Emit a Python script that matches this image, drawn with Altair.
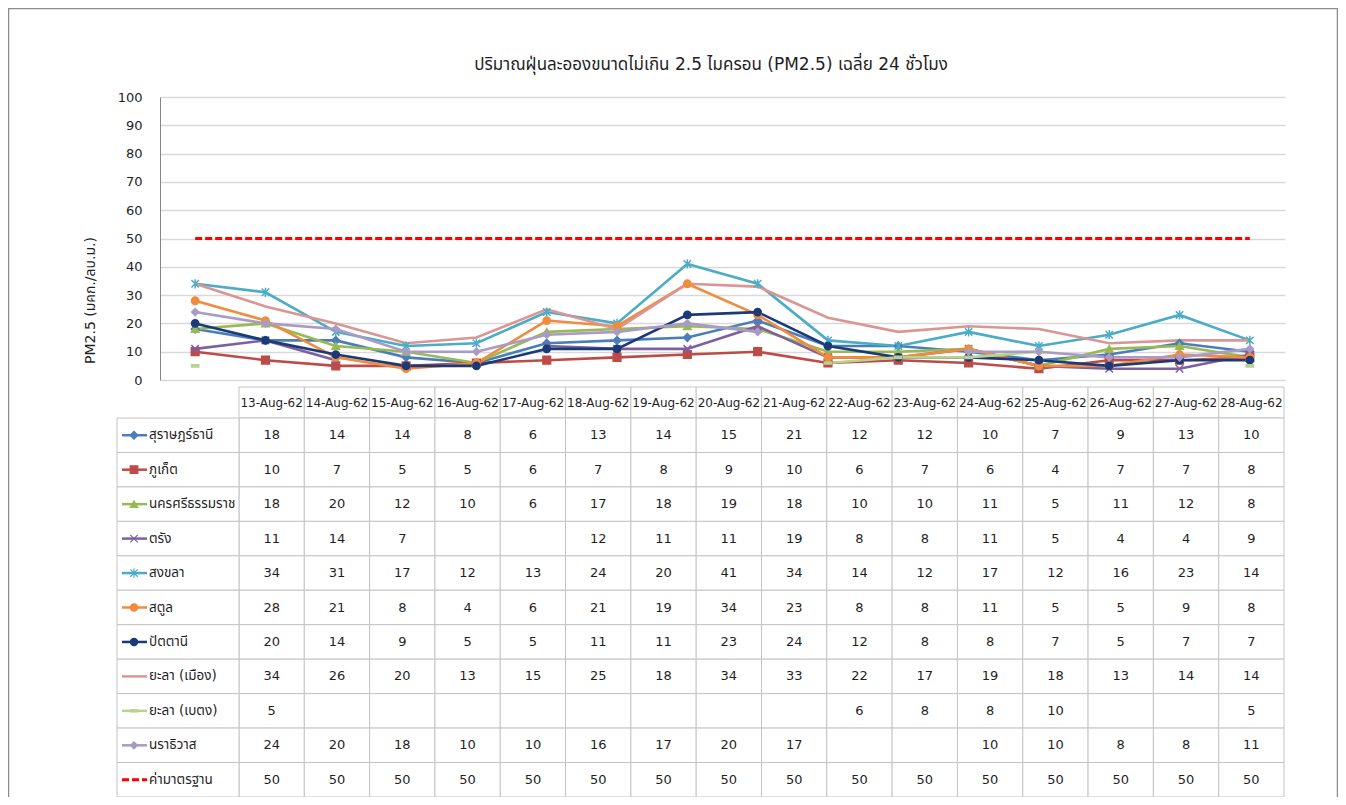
import altair as alt
import pandas as pd

# ---------------- data ----------------
dates = ["13-Aug-62", "14-Aug-62", "15-Aug-62", "16-Aug-62", "17-Aug-62", "18-Aug-62",
         "19-Aug-62", "20-Aug-62", "21-Aug-62", "22-Aug-62", "23-Aug-62", "24-Aug-62",
         "25-Aug-62", "26-Aug-62", "27-Aug-62", "28-Aug-62"]

series_names = ["สุราษฎร์ธานี", "ภูเก็ต", "นครศรีธรรมราช", "ตรัง", "สงขลา", "สตูล",
                "ปัตตานี", "ยะลา (เมือง)", "ยะลา (เบตง)", "นราธิวาส", "ค่ามาตรฐาน"]

surat = [18, 14, 14, 8, 6, 13, 14, 15, 21, 12, 12, 10, 7, 9, 13, 10]
phuket = [10, 7, 5, 5, 6, 7, 8, 9, 10, 6, 7, 6, 4, 7, 7, 8]
nakhon = [18, 20, 12, 10, 6, 17, 18, 19, 18, 10, 10, 11, 5, 11, 12, 8]
trang = [11, 14, 7, None, None, 12, 11, 11, 19, 8, 8, 11, 5, 4, 4, 9]
songkhla = [34, 31, 17, 12, 13, 24, 20, 41, 34, 14, 12, 17, 12, 16, 23, 14]
satun = [28, 21, 8, 4, 6, 21, 19, 34, 23, 8, 8, 11, 5, 5, 9, 8]
pattani = [20, 14, 9, 5, 5, 11, 11, 23, 24, 12, 8, 8, 7, 5, 7, 7]
yala_muang = [34, 26, 20, 13, 15, 25, 18, 34, 33, 22, 17, 19, 18, 13, 14, 14]
yala_betong = [5, None, None, None, None, None, None, None, None, 6, 8, 8, 10, None, None, 5]
narathiwat = [24, 20, 18, 10, 10, 16, 17, 20, 17, None, None, 10, 10, 8, 8, 11]
standard = [50, 50, 50, 50, 50, 50, 50, 50, 50, 50, 50, 50, 50, 50, 50, 50]

series_values = [surat, phuket, nakhon, trang, songkhla, satun, pattani,
                 yala_muang, yala_betong, narathiwat, standard]

title_text = "ปริมาณฝุ่นละอองขนาดไม่เกิน 2.5 ไมครอน (PM2.5) เฉลี่ย 24 ชั่วโมง"
y_title = "PM2.5 (มคก./ลบ.ม.)"
y_ticks = [0, 10, 20, 30, 40, 50, 60, 70, 80, 90, 100]

# ---------------- style ----------------
series_colors = ["#4A7EBB", "#BE4B48", "#98B954", "#7D60A0", "#4BACC6", "#F08C3C",
                 "#1B3A78", "#D99694", "#B7D48E", "#A99BC6", "#FF0000"]
marker_series = ["สุราษฎร์ธานี", "ภูเก็ต", "นครศรีธรรมราช", "ตรัง", "สงขลา", "สตูล",
                 "ปัตตานี", "ยะลา (เบตง)", "นราธิวาส"]
marker_shapes = ["diamond", "square", "triangle-up",
                 "M-1,-1L1,1M-1,1L1,-1",
                 "M-1,-1L1,1M-1,1L1,-1M0,-1.25L0,1.25",
                 "circle", "circle",
                 "M-1,-0.3L1,-0.3L1,0.3L-1,0.3Z",
                 "diamond"]
marker_sizes = [60, 50, 55, 45, 50, 80, 80, 50, 60]
legend_sizes = [40, 36, 40, 30, 34, 50, 50, 36, 40]

FONT = "Tahoma, 'DejaVu Sans', 'Noto Sans Thai', sans-serif"
GRID = "#D9D9D9"
BORDER = "#C4C4C4"
TEXT = "#1F1F1F"

W, H = 1125, 700             # plot area: x 160..1285, y 97..797 on the page
CHART_H = 283                # line chart part
TBL_X0, TBL_X1 = 79, 1124    # data columns of the table
LBL_X0 = -43                 # label column left edge
HDR_Y0, HDR_Y1 = 290, 321
ROW_Y1 = 700

# ---------------- frames ----------------
rows = []
cells = []
for name, vals in zip(series_names, series_values):
    seg = 0
    prev_missing = True
    for i, (d, v) in enumerate(zip(dates, vals)):
        cells.append(dict(series=name, date=d, value=v,
                          label="" if v is None else str(v)))
        if v is None:
            prev_missing = True
            continue
        if prev_missing:
            seg += 1
        prev_missing = False
        rows.append(dict(series=name, date=d, idx=i, value=v, seg=f"{name}-{seg}"))

df = pd.DataFrame(rows)
df_cells = pd.DataFrame(cells)
df_lines = df[df.series != "ค่ามาตรฐาน"]
df_std = df[df.series == "ค่ามาตรฐาน"]
df_pts = df[df.series.isin(marker_series)]
df_names = pd.DataFrame({"series": series_names})
df_hdr = pd.DataFrame({"date": dates, "h": ["h"] * len(dates)})

color_scale = alt.Scale(domain=series_names, range=series_colors)
shape_scale = alt.Scale(domain=marker_series, range=marker_shapes)

xs_chart = alt.Scale(type="point", domain=dates, padding=0.5)
ys_chart = alt.Scale(domain=[0, 100], range=[CHART_H, 0], nice=False)

xs_tbl_band = alt.Scale(type="band", domain=dates, range=[TBL_X0, TBL_X1],
                        paddingInner=0, paddingOuter=0)
xs_tbl_pt = alt.Scale(type="point", domain=dates, range=[TBL_X0, TBL_X1], padding=0.5)
ys_row_band = alt.Scale(type="band", domain=series_names, range=[HDR_Y1, ROW_Y1],
                        paddingInner=0, paddingOuter=0)
ys_row_pt = alt.Scale(type="point", domain=series_names, range=[HDR_Y1, ROW_Y1], padding=0.5)
ys_hdr_band = alt.Scale(type="band", domain=["h"], range=[HDR_Y0, HDR_Y1],
                        paddingInner=0, paddingOuter=0)
ys_hdr_pt = alt.Scale(type="point", domain=["h"], range=[HDR_Y0, HDR_Y1], padding=0.5)

y_axis = alt.Axis(values=y_ticks, grid=True, gridColor=GRID, gridWidth=1.5,
                  domainColor="#868686", domainWidth=1, ticks=False, tickSize=0,
                  labelPadding=18, labelFontSize=13, labelColor=TEXT, labelFont=FONT,
                  title=y_title, titleFont=FONT, titleFontSize=14, titleFontWeight="normal",
                  titleColor=TEXT, titleX=-70, titleY=203, titleBaseline="middle",
                  titleAlign="center")

one = pd.DataFrame({"t": [title_text]})

frame = alt.Chart(one).mark_rect(fill="white", fillOpacity=0, stroke="#8C8C8C",
                                 strokeWidth=1.5).encode(
    x=alt.value(-151.5), x2=alt.value(W + 52.5), y=alt.value(-88.5), y2=alt.value(H + 30))

title = alt.Chart(one).mark_text(font=FONT, fontSize=17, color=TEXT, align="center",
                                 baseline="middle").encode(
    x=alt.value(551), y=alt.value(-32), text="t:N")

lines = alt.Chart(df_lines).mark_line(strokeWidth=2.6).encode(
    x=alt.X("date:N", scale=xs_chart, axis=None),
    y=alt.Y("value:Q", scale=ys_chart, axis=y_axis),
    color=alt.Color("series:N", scale=color_scale, legend=None),
    detail="seg:N",
    order="idx:Q",
)

std_line = alt.Chart(df_std).mark_line(strokeWidth=3, strokeDash=[7, 3]).encode(
    x=alt.X("date:N", scale=xs_chart, axis=None),
    y=alt.Y("value:Q", scale=ys_chart, axis=None),
    color=alt.Color("series:N", scale=color_scale, legend=None),
    order="idx:Q",
)

points = alt.Chart(df_pts).mark_point(filled=True, opacity=1, strokeWidth=1.5).encode(
    x=alt.X("date:N", scale=xs_chart, axis=None),
    y=alt.Y("value:Q", scale=ys_chart, axis=None),
    fill=alt.Fill("series:N", scale=color_scale, legend=None),
    stroke=alt.Stroke("series:N", scale=color_scale, legend=None),
    shape=alt.Shape("series:N", scale=shape_scale, legend=None),
    size=alt.Size("series:N", scale=alt.Scale(domain=marker_series, range=marker_sizes),
                  legend=None),
)

# ---------------- table ----------------
hdr_cells = alt.Chart(df_hdr).mark_rect(fill="white", stroke=BORDER, strokeWidth=1).encode(
    x=alt.X("date:N", scale=xs_tbl_band, axis=None),
    y=alt.Y("h:N", scale=ys_hdr_band, axis=None),
)
hdr_text = alt.Chart(df_hdr).mark_text(font=FONT, fontSize=12, color=TEXT).encode(
    x=alt.X("date:N", scale=xs_tbl_pt, axis=None),
    y=alt.Y("h:N", scale=ys_hdr_pt, axis=None),
    text="date:N",
)
data_cells = alt.Chart(df_cells).mark_rect(fill="white", stroke=BORDER, strokeWidth=1).encode(
    x=alt.X("date:N", scale=xs_tbl_band, axis=None),
    y=alt.Y("series:N", scale=ys_row_band, axis=None),
)
data_text = alt.Chart(df_cells).mark_text(font=FONT, fontSize=13, color=TEXT).encode(
    x=alt.X("date:N", scale=xs_tbl_pt, axis=None),
    y=alt.Y("series:N", scale=ys_row_pt, axis=None),
    text="label:N",
)
label_cells = alt.Chart(df_names).mark_rect(fill="white", stroke=BORDER, strokeWidth=1).encode(
    x=alt.value(LBL_X0), x2=alt.value(TBL_X0),
    y=alt.Y("series:N", scale=ys_row_band, axis=None),
)
legend_lines = alt.Chart(df_names).transform_filter(
    "datum.series != 'ค่ามาตรฐาน'").mark_rule(strokeWidth=2.5).encode(
    x=alt.value(LBL_X0 + 5), x2=alt.value(LBL_X0 + 30),
    y=alt.Y("series:N", scale=ys_row_pt, axis=None),
    color=alt.Color("series:N", scale=color_scale, legend=None),
)
legend_std = alt.Chart(df_names).transform_filter(
    "datum.series == 'ค่ามาตรฐาน'").mark_rule(strokeWidth=3, strokeDash=[7, 3]).encode(
    x=alt.value(LBL_X0 + 5), x2=alt.value(LBL_X0 + 30),
    y=alt.Y("series:N", scale=ys_row_pt, axis=None),
    color=alt.Color("series:N", scale=color_scale, legend=None),
)
legend_pts = alt.Chart(df_names).transform_filter(
    alt.FieldOneOfPredicate(field="series", oneOf=marker_series)).mark_point(
    filled=True, opacity=1, strokeWidth=1.2).encode(
    x=alt.value(LBL_X0 + 17),
    y=alt.Y("series:N", scale=ys_row_pt, axis=None),
    fill=alt.Fill("series:N", scale=color_scale, legend=None),
    stroke=alt.Stroke("series:N", scale=color_scale, legend=None),
    shape=alt.Shape("series:N", scale=shape_scale, legend=None),
    size=alt.Size("series:N", scale=alt.Scale(domain=marker_series, range=legend_sizes),
                  legend=None),
)
legend_text = alt.Chart(df_names).mark_text(font=FONT, fontSize=13.5, color=TEXT,
                                            align="left").encode(
    x=alt.value(LBL_X0 + 32),
    y=alt.Y("series:N", scale=ys_row_pt, axis=None),
    text="series:N",
)

chart = alt.layer(
    frame, title, lines, std_line, points,
    hdr_cells, data_cells, label_cells, hdr_text, data_text,
    legend_lines, legend_std, legend_pts, legend_text,
).resolve_scale(
    x="independent", y="independent"
).properties(
    width=W, height=H,
    autosize=alt.AutoSizeParams(type="none"),
    padding={"left": 152, "top": 89, "right": 53, "bottom": 0},
    background="white",
).configure_view(strokeWidth=0)

chart.save("out.html", embed_options={"renderer": "svg", "actions": False})
